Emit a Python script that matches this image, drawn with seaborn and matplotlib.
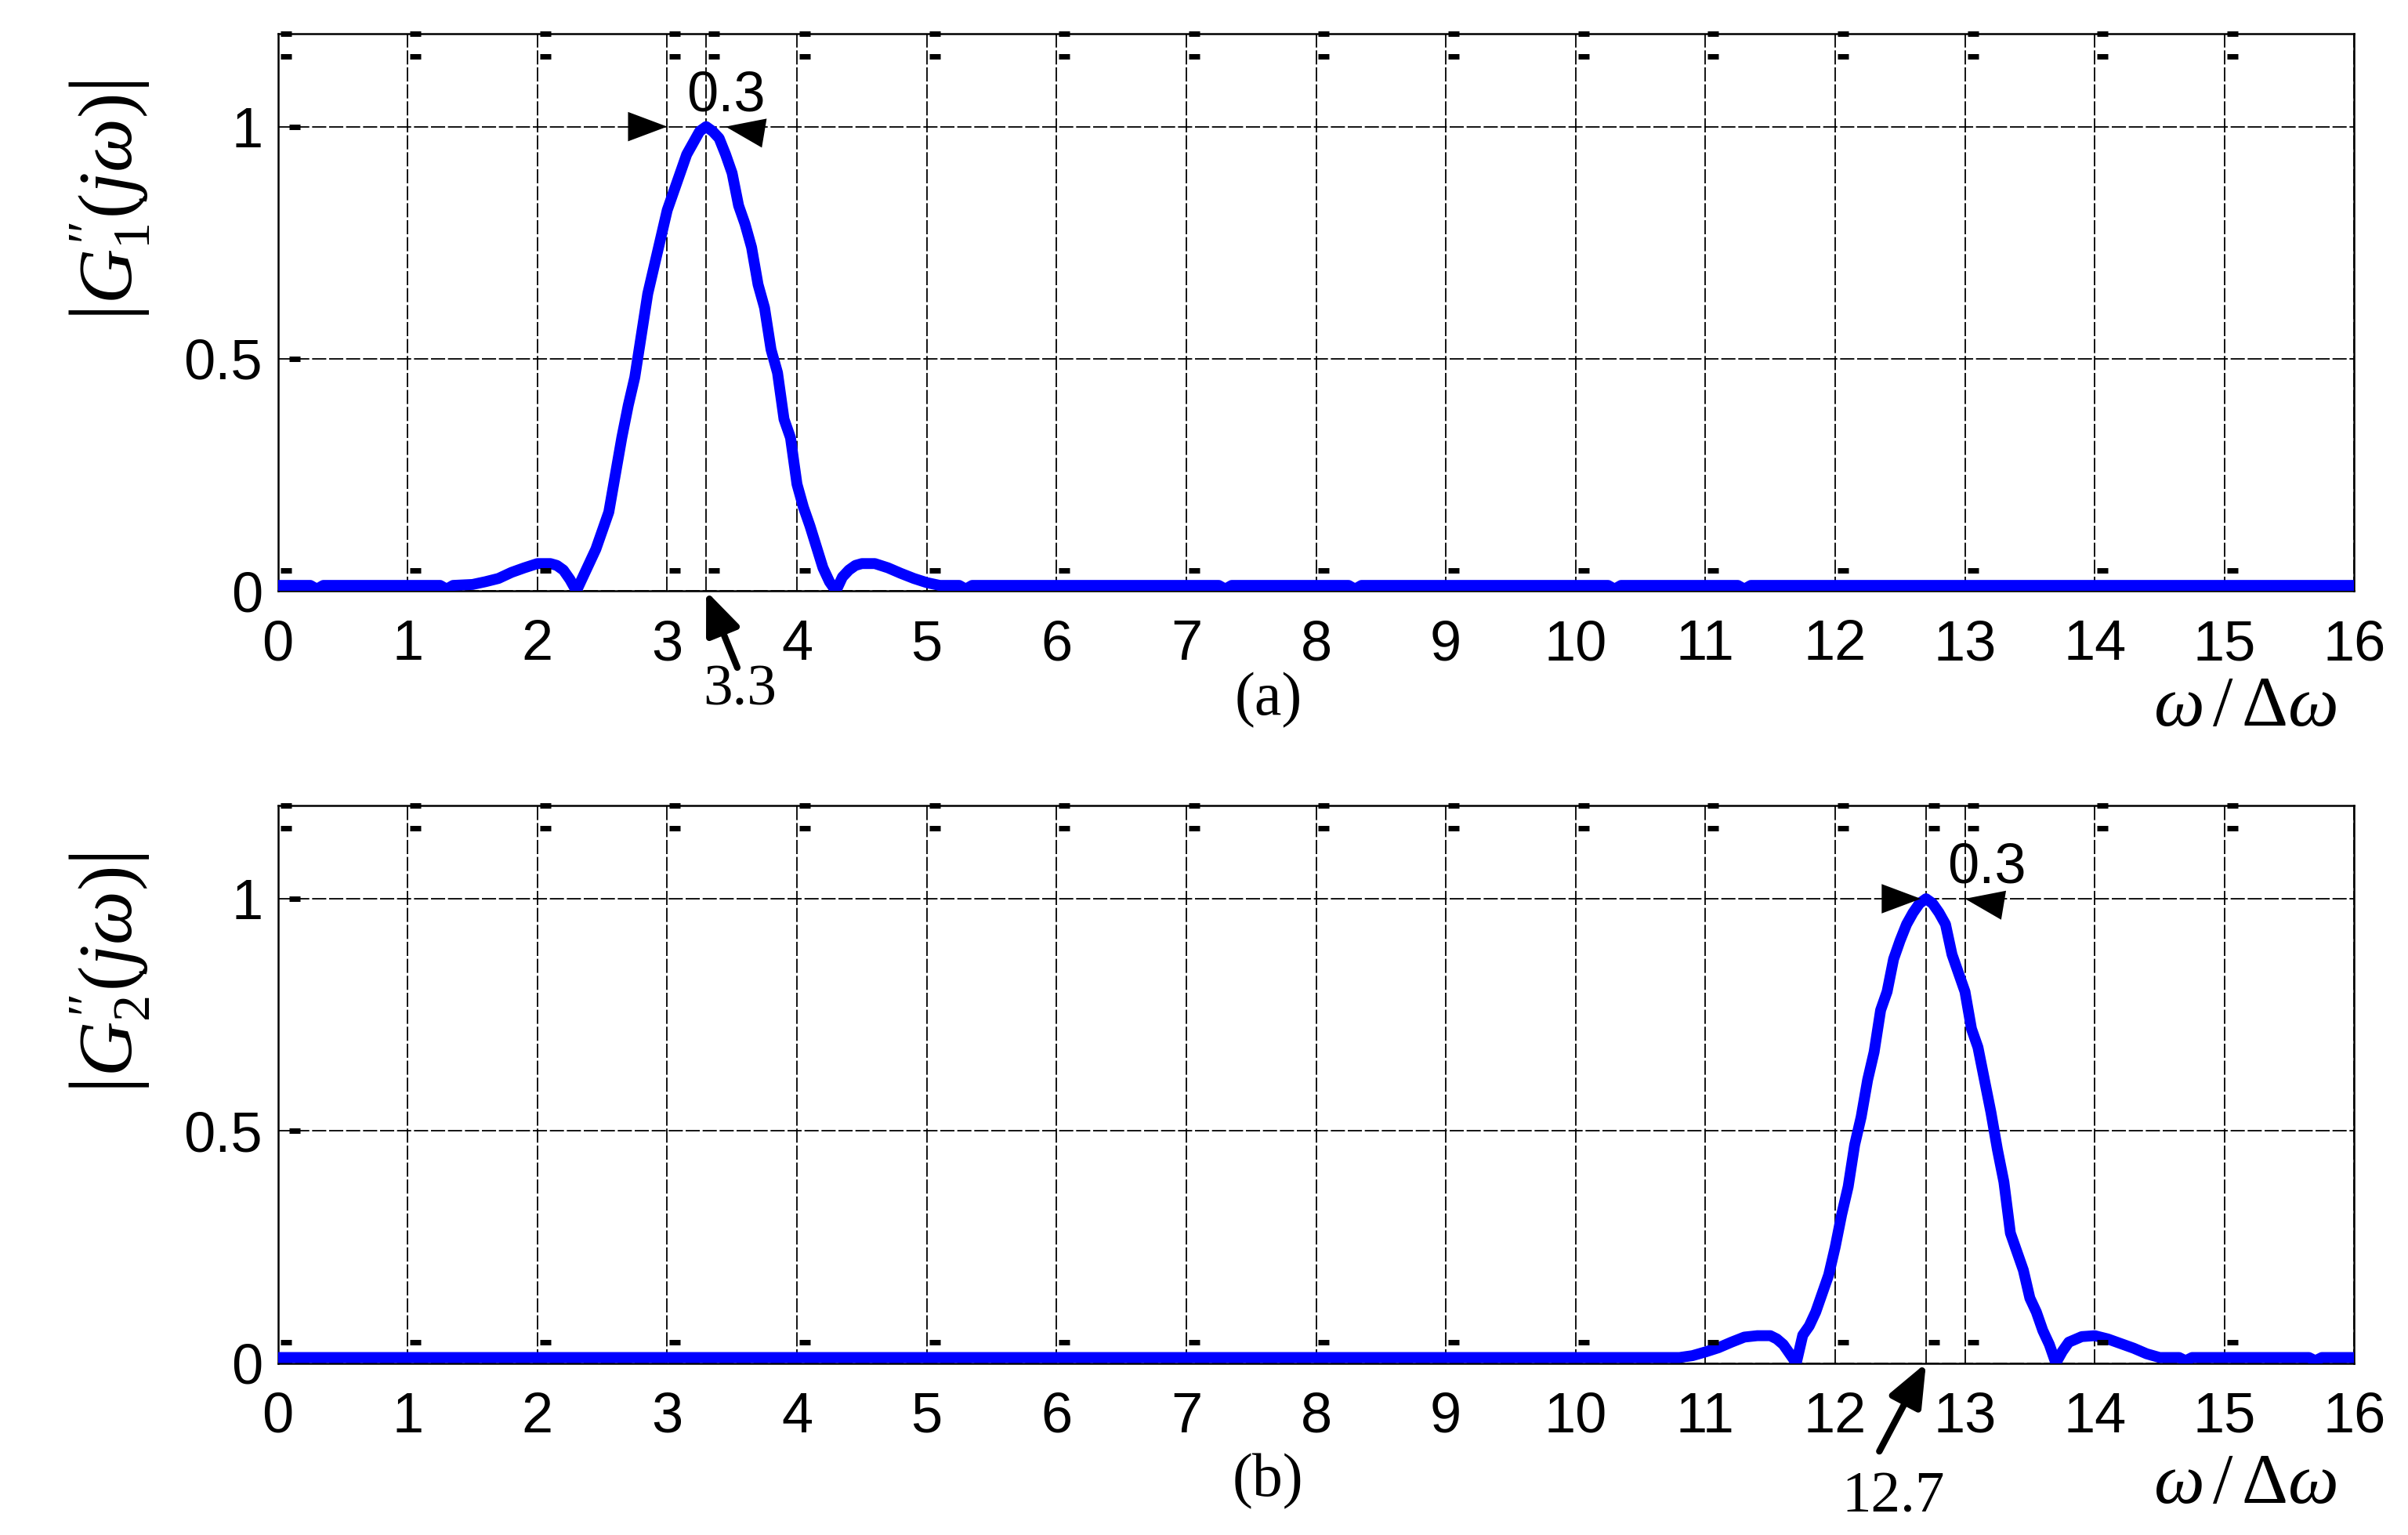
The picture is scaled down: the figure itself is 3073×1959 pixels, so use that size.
import numpy as np
import pandas as pd
import seaborn as sns
import matplotlib.pyplot as plt

# data
xa = [0, 0.25, 0.3, 0.35, 1.25, 1.3, 1.35, 1.5, 1.6, 1.7, 1.8, 1.9, 2.0, 2.1, 2.15, 2.2,
      2.25, 2.3, 2.35, 2.4, 2.45, 2.5, 2.55, 2.6, 2.65, 2.7, 2.75, 2.8, 2.85, 2.9, 2.95,
      3.0, 3.05, 3.1, 3.15, 3.2, 3.25, 3.3, 3.35, 3.4, 3.45, 3.5, 3.55, 3.6, 3.65, 3.7,
      3.75, 3.8, 3.85, 3.9, 3.95, 4.0, 4.05, 4.1, 4.15, 4.2, 4.25, 4.3, 4.35, 4.4, 4.45,
      4.5, 4.6, 4.7, 4.8, 4.9, 5.0, 5.1, 5.25, 5.3, 5.35, 7.25, 7.3, 7.35, 8.25, 8.3,
      8.35, 10.25, 10.3, 10.35, 11.25, 11.3, 11.35, 16]
ya = [0.012, 0.012, 0.004, 0.012, 0.012, 0.004, 0.012, 0.014, 0.02, 0.027, 0.04, 0.05,
      0.059, 0.059, 0.055, 0.045, 0.025, 0.0, 0.03, 0.06, 0.09, 0.13, 0.17, 0.25, 0.33,
      0.40, 0.46, 0.55, 0.64, 0.70, 0.76, 0.82, 0.86, 0.90, 0.94, 0.965, 0.99, 1.0,
      0.99, 0.975, 0.94, 0.90, 0.83, 0.79, 0.74, 0.66, 0.61, 0.52, 0.47, 0.37, 0.33,
      0.23, 0.18, 0.14, 0.095, 0.05, 0.02, 0.0, 0.03, 0.045, 0.055, 0.059, 0.059, 0.05,
      0.038, 0.027, 0.018, 0.012, 0.012, 0.004, 0.012, 0.012, 0.004, 0.012, 0.012,
      0.004, 0.012, 0.012, 0.004, 0.012, 0.012, 0.004, 0.012, 0.012]

xb = [0, 10.8, 10.9, 11.0, 11.1, 11.2, 11.3, 11.4, 11.5, 11.55, 11.6, 11.65, 11.7, 11.75,
      11.8, 11.85, 11.9, 11.95, 12.0, 12.05, 12.1, 12.15, 12.2, 12.25, 12.3, 12.35, 12.4,
      12.45, 12.5, 12.55, 12.6, 12.65, 12.7, 12.75, 12.8, 12.85, 12.9, 12.95, 13.0,
      13.05, 13.1, 13.15, 13.2, 13.25, 13.3, 13.35, 13.4, 13.45, 13.5, 13.55, 13.6,
      13.65, 13.7, 13.75, 13.8, 13.9, 14.0, 14.1, 14.2, 14.3, 14.4, 14.5, 14.65, 14.7,
      14.75, 15.65, 15.7, 15.75, 16]
yb = [0.012, 0.012, 0.016, 0.024, 0.033, 0.045, 0.056, 0.059, 0.059, 0.052, 0.04, 0.02,
      0.0, 0.06, 0.08, 0.11, 0.15, 0.19, 0.25, 0.32, 0.38, 0.47, 0.53, 0.61, 0.67, 0.76,
      0.80, 0.87, 0.91, 0.945, 0.97, 0.99, 1.0, 0.99, 0.97, 0.945, 0.88, 0.84, 0.80,
      0.72, 0.68, 0.61, 0.54, 0.46, 0.39, 0.28, 0.24, 0.20, 0.14, 0.11, 0.07, 0.04, 0.0,
      0.025, 0.045, 0.057, 0.059, 0.052, 0.042, 0.032, 0.02, 0.012, 0.012, 0.005, 0.012,
      0.012, 0.005, 0.012, 0.012]

xticks = list(range(0, 17))
yticks = [0, 0.5, 1]
ytick_labels = ['0', '0.5', '1']
peaks = [3.3, 12.7]
peak_labels = ['3.3', '12.7']
widths = [0.3, 0.3]
panel_tags = ['(a)', '(b)']
ylabels = [r'$\left|G_1^{\prime\prime}(j\omega)\right|$',
           r'$\left|G_2^{\prime\prime}(j\omega)\right|$']
xlabel = r'$\omega\,/\,\Delta\omega$'

sns.set_theme(style='white')
plt.rcParams['font.family'] = ['Liberation Sans', 'DejaVu Sans']
plt.rcParams['mathtext.fontset'] = 'custom'
plt.rcParams['mathtext.rm'] = 'Liberation Serif'
plt.rcParams['mathtext.it'] = 'Liberation Serif:italic'
plt.rcParams['mathtext.bf'] = 'Liberation Serif:bold'

fig = plt.figure(figsize=(30.73, 19.59), dpi=100)
boxes = [[0.1154, 0.615, 0.8623, 0.363], [0.1154, 0.112, 0.8623, 0.363]]
curves = [(xa, ya), (xb, yb)]
serif = 'Liberation Serif'
head = '-|>,head_length=1.2,head_width=0.45'

for i in range(2):
    ax = fig.add_axes(boxes[i])
    df = pd.DataFrame({'w': curves[i][0], 'g': curves[i][1]})
    sns.lineplot(data=df, x='w', y='g', ax=ax, color='#0000ff', lw=10,
                 estimator=None, sort=False, zorder=3)
    ax.set_xlim(0, 16)
    ax.set_ylim(0, 1.2)
    ax.set_xticks(xticks)
    ax.set_xticklabels([str(t) for t in xticks])
    ax.set_xticks([peaks[i]], minor=True)
    ax.set_yticks(yticks)
    ax.set_yticklabels(ytick_labels)
    ax.tick_params(axis='both', which='both', length=0, labelsize=52, colors='black')
    ax.tick_params(axis='x', pad=26)
    ax.tick_params(axis='y', pad=14)
    ax.grid(True, which='both', color='black', lw=1.3, ls=(0, (10, 2)))
    for s in ax.spines.values():
        s.set_color('black')
        s.set_linewidth(1.8)
    ax.set_xlabel('')
    ax.set_ylabel(ylabels[i], fontsize=70, color='black')
    ax.yaxis.set_label_coords(-0.061, 0.70)

    # little MATLAB tick stubs next to each grid line
    stub_x = [t + 0.06 for t in xticks[:-1]] + [peaks[i] + 0.06]
    for yy in [1.2, 1.152, 0.045]:
        ax.plot(stub_x, [yy] * len(stub_x), ls='none', marker='_', ms=10, mew=5,
                color='black', clip_on=False, zorder=4)
    ax.plot([0.13] * (len(yticks) - 1), yticks[1:], ls='none', marker='_', ms=10, mew=5,
            color='black', clip_on=False, zorder=4)

    # peak width arrows and label
    p, w = peaks[i], widths[i]
    left_tip = p - w if i == 0 else p - 0.04
    right_tip = p + 0.15 if i == 0 else p + w
    ax.annotate('', xy=(left_tip, 1.0), xytext=(left_tip - 0.3, 1.0),
                arrowprops=dict(arrowstyle=head, mutation_scale=30, color='black',
                                lw=0, shrinkA=0, shrinkB=0))
    ax.annotate('', xy=(right_tip, 1.0), xytext=(right_tip + 0.32, 0.985),
                arrowprops=dict(arrowstyle=head, mutation_scale=30, color='black',
                                lw=0, shrinkA=0, shrinkB=0))
    ax.text(p + 0.15 if i == 0 else p + 0.47, 1.065, str(w), fontsize=52,
            ha='center', va='center', color='black')

    # peak position arrow
    tail = (p + 0.24, -0.165) if i == 0 else (p - 0.36, -0.19)
    ax.annotate('', xy=(p, 0.0), xytext=tail, annotation_clip=False,
                arrowprops=dict(arrowstyle='-|>,head_length=1.1,head_width=0.45',
                                mutation_scale=30, color='black', lw=6,
                                shrinkA=0, shrinkB=0))
    lab_xy = (p + 0.26, -0.215) if i == 0 else (p - 0.25, -0.29)
    ax.text(lab_xy[0], lab_xy[1], peak_labels[i], fontsize=54, family=serif,
            ha='center', va='center', color='black', clip_on=False)

    ax.text(7.63, -0.235 if i == 0 else -0.255, panel_tags[i], fontsize=56,
            family=serif, ha='center', va='center', color='black')
    ax.text(15.16, -0.25 if i == 0 else -0.26, xlabel, fontsize=66,
            ha='center', va='center', color='black')

fig.savefig('out.png', dpi=100, facecolor='white')
